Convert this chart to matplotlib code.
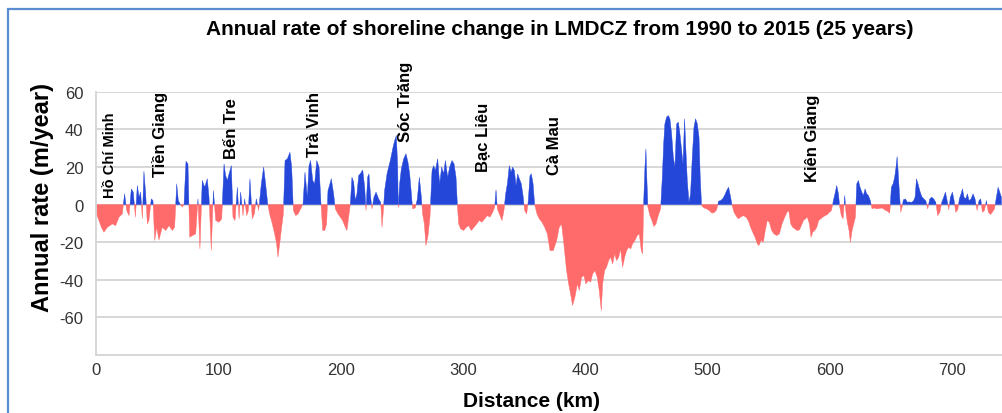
import numpy as np
import matplotlib
matplotlib.use("Agg")
import matplotlib.pyplot as plt
from matplotlib.patches import Rectangle

plt.rcParams['font.family'] = ['Liberation Sans', 'DejaVu Sans']
plt.rcParams['axes.unicode_minus'] = False

# ---- data: distance along the coast (km) and annual shoreline change rate (m/year)
distance_km = [
    0.5, 2.4, 4.4, 6.5, 9.3, 11.4, 13.4, 16.1, 18.8, 21.5, 23.4, 25.1, 27.0, 28.9, 30.5, 32.2,
    33.8, 35.2, 36.5, 37.9, 39.2, 40.6, 42.0, 43.3, 45.2, 46.6, 48.0, 49.6, 51.5, 54.2, 57.0,
    59.7, 62.4, 64.3, 66.0, 67.3, 68.7, 70.6, 72.0, 73.6, 75.2, 76.6, 78.8, 81.5, 83.4, 85.0,
    86.9, 88.9, 91.0, 92.4, 94.3, 96.0, 97.9, 100.6, 102.8, 104.7, 106.0, 107.4, 108.8, 110.7,
    112.0, 113.7, 115.6, 117.0, 118.3, 120.2, 121.6, 123.2, 124.6, 125.9, 127.8, 129.5, 131.1,
    133.0, 135.2, 137.1, 138.7, 140.4, 142.0, 144.2, 146.1, 147.7, 148.8, 150.2, 151.8, 153.2,
    154.6, 156.5, 158.6, 160.0, 161.4, 163.3, 165.2, 167.4, 169.3, 170.9, 172.8, 174.2, 175.5,
    177.2, 178.8, 180.5, 182.4, 184.0, 185.4,
    187.0, 188.6, 189.7, 191.3, 192.4, 194.3, 195.7, 197.9, 199.8, 201.7, 203.3, 205.2, 206.6,
    208.0, 209.3, 210.7, 212.1, 213.4, 214.8, 216.1, 218.1, 219.7, 220.8, 222.1, 223.2, 224.6,
    225.7, 227.3, 229.0, 231.1, 232.8, 233.9, 235.0, 236.0, 238.0, 239.3, 240.7, 242.6, 244.2,
    245.6, 246.7, 247.2, 248.3, 249.7, 251.6, 253.5, 255.1, 256.5, 257.9, 258.9, 261.1, 262.8,
    264.4, 265.8, 267.1, 268.5, 269.8, 271.5, 273.1, 274.8, 276.1, 277.5, 279.4, 281.0, 282.7,
    284.3, 285.7, 287.6, 289.2, 291.1, 292.8, 294.4, 295.5, 296.6, 298.2, 300.6, 302.8, 304.7,
    306.9, 309.1, 311.3, 313.5, 315.6, 317.8, 320.0, 322.2, 324.4, 326.0, 327.1, 328.2, 329.8,
    332.0, 333.6, 335.0, 336.4, 338.0, 339.4, 340.7, 342.1, 343.5, 344.8, 346.2, 347.8, 349.2,
    350.5, 352.2, 353.5, 354.9, 356.0, 357.4, 358.7, 360.6, 362.5, 364.7, 366.9, 369.1, 371.3,
    373.9, 376.7, 378.8, 380.7, 382.6, 384.8, 386.5, 388.1, 389.7, 391.6, 393.6, 395.2, 397.1,
    399.0, 400.6, 402.5, 404.5, 406.1, 408.0, 409.9, 411.5, 413.2, 414.3, 415.9, 417.5, 419.2,
    420.8, 422.5, 424.1, 425.7, 427.4, 429.0, 430.6, 432.3, 433.9, 435.5, 437.2, 438.8, 440.7,
    442.6, 444.3, 445.9, 447.0, 447.8, 448.9, 449.7, 450.5, 451.3, 453.0, 454.6, 456.2, 457.9,
    459.8, 461.7, 463.1, 464.2, 465.2, 466.6, 468.0, 469.3, 470.7, 472.1, 473.4, 474.8, 476.2,
    477.5, 478.9, 480.0, 481.3, 482.4, 483.5, 484.9, 486.2, 487.6, 489.0, 490.3, 491.7, 493.1,
    494.1, 495.2, 497.1, 499.3, 501.5, 503.7, 505.9, 507.5, 509.1, 510.8, 512.4, 514.0, 515.7,
    517.3, 518.7, 520.0, 521.7, 523.3, 525.2, 527.1, 529.3, 531.5, 533.4, 535.3, 537.0, 538.9,
    540.8, 542.1, 543.8, 545.7, 547.3, 548.9, 550.6, 552.5, 554.4, 556.6,
    558.8, 561.0, 563.2, 565.1, 566.5, 568.1, 569.7, 571.4, 573.3, 575.2, 576.8, 578.5, 580.1,
    581.7, 583.4, 584.7, 586.1, 587.7, 589.4, 591.0, 592.6, 594.3, 596.2, 598.1, 599.7, 601.4,
    603.0, 604.6, 605.7, 607.1, 608.2, 609.5, 610.9, 612.3, 613.1, 614.4, 615.8, 616.9, 618.3,
    619.6, 621.0, 622.1, 623.4, 624.8, 626.2, 627.5, 628.9, 630.2, 631.6, 633.2, 634.6, 636.5,
    638.4, 640.6, 642.8, 645.0, 647.1, 649.1, 650.4, 651.8, 653.1, 654.2, 655.1, 655.9, 657.0,
    658.1, 659.1, 660.2, 661.9, 663.5, 665.1, 666.8, 668.4, 669.8, 670.9, 672.2, 673.6, 675.2,
    676.9, 678.5, 680.1, 681.8, 683.4, 685.0, 686.7, 688.3, 690.0, 691.6, 693.2, 694.6, 696.0,
    697.3, 698.7, 700.3, 701.7, 703.0, 704.7, 706.0, 707.4, 708.5, 709.8, 711.2, 712.6, 713.9,
    715.6, 717.2, 718.8, 720.5, 722.1, 723.5, 724.8, 726.5, 728.1, 729.7, 731.4, 733.0, 734.7,
    736.3, 737.7, 739.0, 740.4,
]

rate_m_per_year = [
    -5.0, -8.5, -12.1, -14.7, -12.1, -11.2, -10.3, -11.2, -6.7, -5.0, 5.7, -3.2, -5.9, 8.3, 6.6, -6.7,
    10.1, 3.9, 6.6, -7.6, 17.7, 5.7, -10.3, -8.5, 3.0, 2.1, -19.1, -12.1, -18.8, -12.1, -13.8,
    -11.2, -13.8, -12.1, 11.0, 2.1, 0.4, -1.4, 0.4, 23.0, 21.6, -17.4, -16.5, -15.6, 3.0, -23.6,
    12.8, 9.2, 13.7, 3.9, -24.5, 7.4, -8.5, -9.4, -7.6, 21.6, 15.4, 12.8, 16.3, 20.7,
    -6.7, -8.5, 9.2, -7.6, 6.6, -5.9, 3.0, -5.9, -3.2, 13.7, -7.6, -5.0, 3.0,
    -3.2, 11.0, 19.9, 11.0, 0.4, -5.0, -10.3, -15.6, -20.9, -28.0, -20.9, -12.1, -5.0,
    23.4, 24.3, 27.8, 19.9, -3.2, -5.9, -5.0, -2.3, 0.4, 17.2, 3.9, 20.7, 23.4,
    12.8, 11.0, 23.4, 19.9, 0.4, -13.8,
    -13.8, -10.3, 7.4, 11.0, 13.7, 5.7, -2.3, -5.0, -6.7, -8.5, -11.2, -13.8, -6.7,
    0.4, 14.5, 11.9, 2.1, 5.7, 15.4, 16.3, 18.4, 9.2, -3.2, 14.5, 16.3, 3.9,
    -2.3, 3.9, 6.6, 3.0, 1.2, -12.1, -3.2, 7.4, 16.3, 19.9, 23.4, 29.6, 34.0,
    36.7, 19.9, -1.4, 11.0, 19.0, 24.3, 27.0, 22.5, 16.3, 5.7, -2.3, -1.8, 3.0,
    14.5, 5.7, -5.0, -10.3, -21.8, -16.5, -6.7, 18.1, 20.7, 18.1, 24.3, 11.0, 19.9,
    16.3, 23.4, 14.5, 19.9, 23.4, 21.6, 14.5, 0.0, -10.3, -12.9, -13.8, -12.1, -11.2,
    -13.8, -12.1, -10.3, -8.5, -9.4, -7.6, -5.9, -6.7, -4.1, -1.4, 7.8, -2.3, -5.0,
    -8.5, -3.2, 5.7, 11.0, 20.7, 17.2, 19.9, 18.1, 10.1, 16.3, 13.7, 11.0, 4.8,
    -3.2, -5.0, 2.1, 15.4, 16.3, 11.0, 0.0, -5.0, -7.6, -9.4, -12.1, -15.6, -24.5,
    -24.5, -19.1, -12.1, -10.3, -20.9, -35.1, -42.2, -47.5, -53.7, -49.3, -42.2, -45.7, -38.7,
    -37.8, -42.2, -40.4, -41.3, -36.9, -35.1, -38.7, -45.7, -56.4, -42.2, -35.1, -33.3, -29.8,
    -28.0, -31.6, -26.2, -29.8, -28.0, -23.6, -33.3, -28.0, -24.5, -22.7, -23.6, -20.9, -19.1,
    -16.5, -15.6, -24.5, -26.2, 0.0, 19.9, 29.6, 12.8, -1.4, -5.9, -8.5, -11.7, -10.3,
    -5.9, -2.3, 14.5, 32.3, 42.9, 46.5, 47.3, 45.6, 37.6, 25.2, 19.9, 42.9, 43.8,
    37.6, 28.7, 21.6, 45.6, 28.7, 12.8, 1.2, 5.7, 25.2, 41.1, 45.6, 42.9, 35.8,
    14.5, -0.5, -1.8, -2.3, -3.2, -4.6, -4.1, -2.8, 1.8, 2.1, 3.0, 4.8, 7.4,
    9.2, 4.8, 0.0, -4.1, -5.9, -7.6, -6.7, -5.9, -6.7, -8.5, -12.1, -14.7, -17.4,
    -20.9, -21.8, -19.1, -20.0, -13.8, -8.5, -9.4, -13.8, -15.6, -16.5,
    -15.6, -10.3, -6.7, -4.1, -3.2, -10.3, -12.1, -12.9, -13.8, -13.5, -11.2, -8.5, -7.6,
    -6.7, -10.3, -17.4, -14.7, -13.8, -12.1, -8.5, -7.6, -6.7, -5.9, -5.3, -4.1, -3.2,
    2.1, 6.6, 10.1, 5.7, -1.4, -5.9, -7.6, 4.8, -3.2, -9.4, -13.8, -20.0, -13.8,
    -10.3, -6.7, 11.0, 12.8, 9.2, 6.6, 4.8, 8.3, 5.7, 4.8, 2.1, -2.3, -1.8,
    -2.3, -2.1, -1.8, -2.8, -3.5, -4.6, 9.2, 11.0, 14.5, 19.9, 25.5, 18.1, 5.7,
    -4.1, -1.4, 2.5, 3.0, 1.2, 1.4, 1.1, 1.8, 3.9, 13.7, 11.0, 7.4, 4.3,
    3.0, 2.1, -2.3, 3.0, 3.9, 3.0, 1.2, -5.9, -4.1, 1.2, 3.9, 6.6, 2.1,
    -2.8, 3.9, 6.6, 2.1, -4.1, -2.8, 3.0, 5.7, 8.3, 3.9, 3.0, 5.7, 2.1,
    3.0, 5.7, 3.0, -3.2, 2.1, 3.0, -4.1, -3.2, 2.1, -4.1, -5.3, -4.1, -2.3,
    3.9, 9.2, 6.6, 3.9,
]

province_names = ["Hồ Chí Minh", "Tiền Giang", "Bến Tre", "Trà Vinh", "Sóc Trăng",
                  "Bạc Liêu", "Cà Mau", "Kiên Giang"]
province_km = [11.4, 52.3, 110.4, 179.0, 252.7, 316.5, 375.3, 586.3]
province_label_base = [3.9, 15.0, 24.6, 25.7, 33.7, 17.7, 16.1, 12.4]

y_ticks = [-60, -40, -20, 0, 20, 40, 60]
x_ticks = [0, 100, 200, 300, 400, 500, 600, 700]

# ---- figure
x = np.array(distance_km)
y = np.array(rate_m_per_year)

fig = plt.figure(figsize=(10.02, 4.14), dpi=100)
ax = fig.add_axes([96 / 1002, 58 / 414, 1 - 96 / 1002, 263.3 / 414])

grid_c = "#d4d4d4"
for v in y_ticks:
    ax.axhline(v, color=grid_c, lw=1.3, zorder=0)

blue = "#2447DA"
red = "#FF6A6A"
ax.fill_between(x, y, 0, where=y >= 0, interpolate=True, color=blue, lw=0.3,
                edgecolor=blue, zorder=2)
ax.fill_between(x, y, 0, where=y <= 0, interpolate=True, color=red, lw=0.3,
                edgecolor=red, zorder=2)

ax.set_xlim(0, (1002 - 96) / 1.2229)
ax.set_ylim(-80, 60)
ax.set_yticks(y_ticks)
ax.set_xticks(x_ticks)
ax.tick_params(axis="both", length=0, labelsize=12, labelcolor="#333333")
ax.tick_params(axis="y", pad=9)
ax.tick_params(axis="x", pad=5)
for s in ["top", "right"]:
    ax.spines[s].set_visible(False)
for s in ["left", "bottom"]:
    ax.spines[s].set_color(grid_c)
    ax.spines[s].set_linewidth(1.3)

for name, km, base in zip(province_names, province_km, province_label_base):
    small = name == "Hồ Chí Minh"
    ax.text(km, base, name, rotation=90, ha="center", va="bottom",
            fontsize=10.5 if small else 12, fontweight="bold",
            color="black", zorder=5)

fig.text(0.559, 0.928, "Annual rate of shoreline change in LMDCZ from 1990 to 2015 (25 years)",
         ha="center", va="center", fontsize=15, fontweight="bold")
fig.text(0.042, 0.524, "Annual rate (m/year)", rotation=90, ha="center", va="center",
         fontsize=17, fontweight="bold")
fig.text(0.530, 0.029, "Distance (km)", ha="center", va="center",
         fontsize=15, fontweight="bold")

frame = Rectangle((8 / 1002, -0.2), 1.2, 1 - 10 / 414 + 0.2,
                  transform=fig.transFigure, fill=False, edgecolor="#5b8bd0", lw=1.6,
                  clip_on=False)
fig.patches.append(frame)

fig.savefig("out.png", dpi=100)
